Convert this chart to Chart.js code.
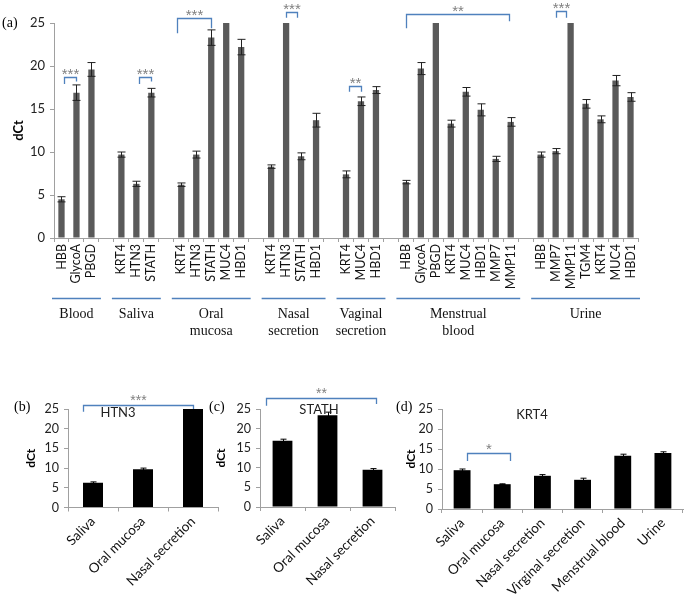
<!DOCTYPE html>
<html>
<head>
<meta charset="utf-8">
<title>dCt by body fluid</title>
<style>
  body { margin: 0; background: #fff; }
  #wrap { position: relative; width: 686px; height: 596px; overflow: hidden; }
  canvas { position: absolute; }
</style>
</head>
<body>
<script src="https://cdn.jsdelivr.net/npm/chart.js"></script>
<div id="wrap">
  <canvas id="chartA" width="686" height="345" style="left:0;top:0"></canvas>
  <canvas id="chartB" width="225" height="211" style="left:0;top:385px"></canvas>
  <canvas id="chartC" width="200" height="211" style="left:200px;top:385px"></canvas>
  <canvas id="chartD" width="296" height="211" style="left:390px;top:385px"></canvas>
</div>

<script>
// panel (a): one slot per gene, '' slots are the gaps between tissues
const geneLabels = ['HBB', 'GlycoA', 'PBGD', '',
  'KRT4', 'HTN3', 'STATH', '',
  'KRT4', 'HTN3', 'STATH', 'MUC4', 'HBD1', '',
  'KRT4', 'HTN3', 'STATH', 'HBD1', '',
  'KRT4', 'MUC4', 'HBD1', '',
  'HBB', 'GlycoA', 'PBGD', 'KRT4', 'MUC4', 'HBD1', 'MMP7', 'MMP11', '',
  'HBB', 'MMP7', 'MMP11', 'TGM4', 'KRT4', 'MUC4', 'HBD1'];
const dctValues = [4.5, 16.9, 19.6, null,
  9.7, 6.3, 16.9, null,
  6.2, 9.7, 23.3, 25, 22.2, null,
  8.3, 25, 9.5, 13.7, null,
  7.4, 15.9, 17.2, null,
  6.5, 19.7, 25, 13.3, 17.0, 14.9, 9.2, 13.5, null,
  9.7, 10.1, 25, 15.6, 13.8, 18.3, 16.4];
const dctErrors = [0.3, 0.9, 0.8, null,
  0.3, 0.3, 0.5, null,
  0.2, 0.4, 0.9, 0, 0.9, null,
  0.2, 0, 0.4, 0.8, null,
  0.4, 0.5, 0.4, null,
  0.2, 0.7, 0, 0.4, 0.5, 0.7, 0.3, 0.5, null,
  0.3, 0.3, 0, 0.5, 0.4, 0.6, 0.5];
const tissueNames = [['Blood'], ['Saliva'], ['Oral', 'mucosa'], ['Nasal', 'secretion'],
  ['Vaginal', 'secretion'], ['Menstrual', 'blood'], ['Urine']];
const tissueFirst = [0, 4, 8, 14, 19, 23, 32];
const tissueLast = [2, 6, 12, 17, 21, 30, 38];

// panels (b)-(d)
const fluids3 = ['Saliva', 'Oral mucosa', 'Nasal secretion'];
const htn3Values = [6.3, 9.7, 25];
const htn3Errors = [0.2, 0.3, 0];
const stathValues = [16.9, 23.4, 9.5];
const stathErrors = [0.4, 0.8, 0.3];
const fluids6 = ['Saliva', 'Oral mucosa', 'Nasal secretion', 'Virginal secretion', 'Menstrual blood', 'Urine'];
const krt4Values = [9.7, 6.2, 8.3, 7.3, 13.3, 14.0];
const krt4Errors = [0.3, 0.1, 0.3, 0.4, 0.4, 0.3];

// significance brackets: category indices + dCt levels
const bracketsA = [
  { from: 0, to: 1, top: 18.7, legL: 17.9, legR: 18.2, dx1: 2.5, dx2: 0, text: '***' },
  { from: 5, to: 6, top: 18.7, legL: 17.9, legR: 18.2, dx1: 2.5, dx2: 0, text: '***' },
  { from: 8, to: 10, top: 25.6, legL: 23.8, legR: 24.4, dx1: -4.5, dx2: 0, text: '***' },
  { from: 15, to: 16, top: 26.3, legL: 25.6, legR: 25.6, dx1: 0, dx2: -4.5, text: '***' },
  { from: 19, to: 20, top: 17.7, legL: 17.0, legR: 17.0, dx1: 2.5, dx2: 0, text: '**' },
  { from: 23, to: 30, top: 26.0, legL: 24.4, legR: 25.2, dx1: 0, dx2: -1.5, text: '**' },
  { from: 33, to: 34, top: 26.4, legL: 25.6, legR: 25.6, dx1: 0, dx2: -4.5, text: '***' }
];
const bracketsB = [{ from: 0, to: 2, top: 26.1, legL: 24.3, legR: 25.0, dx1: -10, dx2: 0, text: '***' }];
const bracketsC = [{ from: 0, to: 2, top: 27.8, legL: 25.8, legR: 26.3, dx1: -17, dx2: 3, text: '**' }];
const bracketsD = [{ from: 0, to: 1, top: 14.0, legL: 12.0, legR: 12.0, dx1: 5, dx2: 8, text: '*' }];

const axisGray = '#a0a0a0';
const bracketBlue = '#4f81bd';
const FONT = 'Lato';

const errorBarPlugin = {
  id: 'errorBars',
  afterDatasetsDraw(chart, args, opts) {
    const ctx = chart.ctx;
    const ys = chart.scales.y;
    const vals = chart.data.datasets[0].data;
    ctx.save();
    ctx.strokeStyle = opts.color;
    ctx.lineWidth = 1;
    chart.getDatasetMeta(0).data.forEach((bar, i) => {
      const v = vals[i], e = opts.errors[i];
      if (v == null || !e) return;
      const x = Math.round(bar.x) + 0.5;
      const y1 = ys.getPixelForValue(v + e), y2 = ys.getPixelForValue(v - e);
      ctx.beginPath();
      ctx.moveTo(x, y1); ctx.lineTo(x, y2);
      ctx.moveTo(x - opts.cap, y1); ctx.lineTo(x + opts.cap, y1);
      ctx.moveTo(x - opts.cap, y2); ctx.lineTo(x + opts.cap, y2);
      ctx.stroke();
    });
    ctx.restore();
  }
};

const bracketPlugin = {
  id: 'brackets',
  afterDraw(chart, args, opts) {
    const ctx = chart.ctx;
    const xs = chart.scales.x, ys = chart.scales.y;
    ctx.save();
    (opts.items || []).forEach(b => {
      const x1 = Math.round(xs.getPixelForValue(b.from) + b.dx1) + 0.5;
      const x2 = Math.round(xs.getPixelForValue(b.to) + b.dx2) + 0.5;
      const yt = Math.round(ys.getPixelForValue(b.top)) + 0.5;
      ctx.strokeStyle = bracketBlue;
      ctx.lineWidth = 1.3;
      ctx.beginPath();
      ctx.moveTo(x1, ys.getPixelForValue(b.legL));
      ctx.lineTo(x1, yt);
      ctx.lineTo(x2, yt);
      ctx.lineTo(x2, ys.getPixelForValue(b.legR));
      ctx.stroke();
      ctx.fillStyle = '#808080';
      ctx.font = opts.starSize + 'px "Liberation Sans"';
      ctx.textAlign = 'center';
      ctx.textBaseline = 'alphabetic';
      ctx.fillText(b.text, (x1 + x2) / 2, yt + opts.starDy);
    });
    ctx.restore();
  }
};

// free text (panel letters, gene titles) in canvas coordinates
const notesPlugin = {
  id: 'notes',
  afterDraw(chart, args, opts) {
    const ctx = chart.ctx;
    ctx.save();
    (opts.items || []).forEach(n => {
      ctx.font = n.font;
      ctx.fillStyle = n.color || '#000';
      ctx.textAlign = n.align || 'left';
      ctx.textBaseline = 'middle';
      ctx.fillText(n.text, n.x, n.y);
    });
    ctx.restore();
  }
};

// tissue group lines + names under panel (a)
const tissuePlugin = {
  id: 'tissues',
  afterDraw(chart) {
    const opts = chart.options.plugins.tissues;
    if (!opts || !opts.enabled) return;
    const ctx = chart.ctx;
    const xs = chart.scales.x;
    const slot = xs.width / chart.data.labels.length;
    const base = chart.chartArea.bottom;
    ctx.save();
    tissueNames.forEach((name, g) => {
      const x1 = xs.getPixelForValue(tissueFirst[g]) - slot / 2 - 2;
      const x2 = xs.getPixelForValue(tissueLast[g]) + slot / 2 + 2;
      ctx.strokeStyle = bracketBlue;
      ctx.lineWidth = 1.3;
      ctx.beginPath();
      ctx.moveTo(x1, base + 60.5);
      ctx.lineTo(x2, base + 60.5);
      ctx.stroke();
      ctx.fillStyle = '#111';
      ctx.font = '14px "Liberation Serif"';
      ctx.textAlign = 'center';
      ctx.textBaseline = 'middle';
      name.forEach((line, k) => ctx.fillText(line, (x1 + x2) / 2, base + 76 + k * 17));
    });
    ctx.restore();
  }
};

function makeBarChart(id, cfg) {
  return new Chart(document.getElementById(id), {
    type: 'bar',
    data: {
      labels: cfg.labels,
      datasets: [{ data: cfg.values, backgroundColor: cfg.color, barPercentage: cfg.barPct, categoryPercentage: 1 }]
    },
    options: {
      responsive: false,
      animation: false,
      layout: { padding: cfg.padding },
      plugins: {
        legend: { display: false },
        tooltip: { enabled: false },
        errorBars: { errors: cfg.errors, cap: cfg.cap, color: cfg.errColor },
        brackets: { items: cfg.brackets, starSize: cfg.starSize, starDy: cfg.starDy },
        notes: { items: cfg.notes },
        tissues: { enabled: !!cfg.tissues }
      },
      scales: {
        x: {
          grid: { offset: true, drawOnChartArea: false, tickLength: 4, color: axisGray },
          border: { color: axisGray },
          ticks: {
            autoSkip: false, minRotation: cfg.rot, maxRotation: cfg.rot, padding: 2,
            color: '#111', font: { family: FONT, size: cfg.xFont }
          },
          afterFit: s => { s.height = cfg.xHeight; }
        },
        y: {
          min: 0, max: 25,
          ticks: { stepSize: 5, padding: 5, color: '#222', font: { family: FONT, size: cfg.yFont } },
          grid: { drawOnChartArea: false, tickLength: 4, color: axisGray },
          border: { color: axisGray },
          title: {
            display: true, text: 'dCt', color: '#000', padding: { top: 0, bottom: 0 },
            font: { family: FONT, size: cfg.titleSize, weight: 'bold' }
          },
          afterFit: s => { s.width = cfg.yWidth; }
        }
      }
    },
    plugins: [errorBarPlugin, bracketPlugin, notesPlugin, tissuePlugin]
  });
}

makeBarChart('chartA', {
  labels: geneLabels, values: dctValues, errors: dctErrors, color: '#5a5a5a', errColor: '#222',
  barPct: 0.42, cap: 4, rot: 90, xFont: 12.5, yFont: 13, titleSize: 13,
  padding: { top: 23, left: 11, right: 48, bottom: 0 }, yWidth: 43, xHeight: 107,
  brackets: bracketsA, starSize: 15, starDy: 1, tissues: true,
  notes: [{ text: '(a)', x: 2, y: 23, font: '14px "Liberation Serif"' }]
});

makeBarChart('chartB', {
  labels: fluids3, values: htn3Values, errors: htn3Errors, color: '#000', errColor: '#000',
  barPct: 0.4, cap: 3, rot: 45, xFont: 13.5, yFont: 12.5, titleSize: 12,
  padding: { top: 24, left: 24, right: 7, bottom: 0 }, yWidth: 44, xHeight: 88.5,
  brackets: bracketsB, starSize: 14, starDy: -1,
  notes: [
    { text: '(b)', x: 14, y: 22, font: '14px "Liberation Serif"' },
    { text: 'HTN3', x: 118, y: 28, align: 'center', font: '13px ' + FONT, color: '#222' }
  ]
});

makeBarChart('chartC', {
  labels: fluids3, values: stathValues, errors: stathErrors, color: '#000', errColor: '#000',
  barPct: 0.44, cap: 3, rot: 45, xFont: 13.5, yFont: 12.5, titleSize: 12,
  padding: { top: 24, left: 14, right: 5, bottom: 0 }, yWidth: 46, xHeight: 89,
  brackets: bracketsC, starSize: 14, starDy: -1,
  notes: [
    { text: '(c)', x: 9, y: 22, font: '14px "Liberation Serif"' },
    { text: 'STATH', x: 119, y: 25, align: 'center', font: '13px ' + FONT, color: '#222' }
  ]
});

makeBarChart('chartD', {
  labels: fluids6, values: krt4Values, errors: krt4Errors, color: '#000', errColor: '#000',
  barPct: 0.42, cap: 3, rot: 45, xFont: 13.5, yFont: 12.5, titleSize: 12,
  padding: { top: 24, left: 14, right: 3, bottom: 0 }, yWidth: 38, xHeight: 87,
  brackets: bracketsD, starSize: 15, starDy: 0,
  notes: [
    { text: '(d)', x: 6, y: 22, font: '14px "Liberation Serif"' },
    { text: 'KRT4', x: 142, y: 30, align: 'center', font: '13px ' + FONT, color: '#222' }
  ]
});
</script>
</body>
</html>
